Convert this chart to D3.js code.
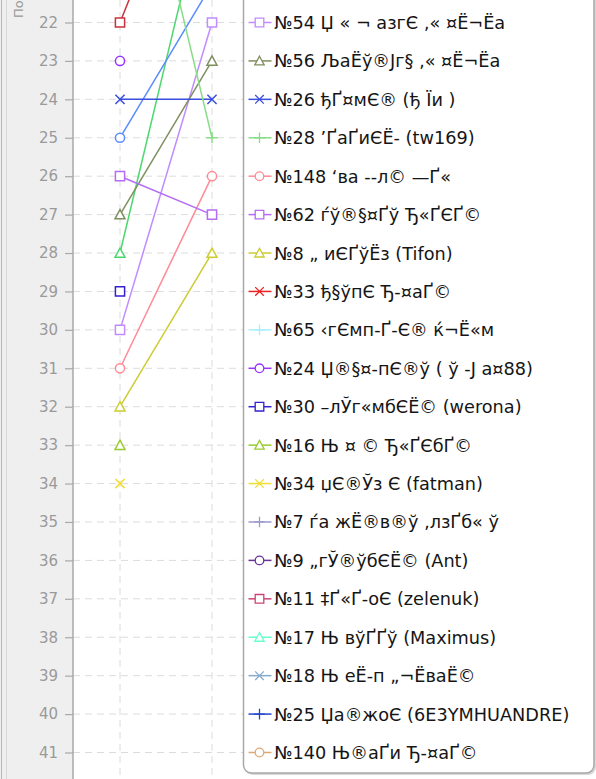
<!DOCTYPE html>
<html>
<head>
<meta charset="utf-8">
<script src="https://cdn.jsdelivr.net/npm/d3@7"></script>
<style>
  html, body { margin: 0; padding: 0; background: #fff; overflow: hidden; }
  svg { display: block; }
  text { white-space: pre; }
</style>
</head>
<body>
<div id="chart"></div>
<script>
// ============================================================
// Bump chart — positions per round, cropped window 22..41
// ============================================================

// ── Data ───────────────────────────────────────────────────
const rounds = ['1', '2'];

// legend order (first three sit above the visible part of the legend)
const riders = [
  null, null, null,
  '№54 Џ\u00A0«\u00A0¬\u00A0азгЄ ‚«\u00A0¤Ё¬Ёа',
  '№56 ЉаЁў®Јг§ ‚«\u00A0¤Ё¬Ёа',
  '№26 ђҐ¤мЄ® (ђ\u00A0Їи\u00A0)',
  '№28 ’ҐаҐиЄЁ- (tw169)',
  '№148 ‘ва\u00A0--л© —Ґ«',
  '№62 ѓў®§¤Ґў Ђ«ҐЄҐ©',
  '№8 „\u00A0иЄҐўЁз (Tifon)',
  '№33 ђ§ўпЄ Ђ-¤аҐ©',
  '№65 ‹гЄмп-Ґ-Є® ќ¬Ё«м',
  '№24 Џ®§¤-пЄ®ў (\u00A0ў\u00A0-Ј\u00A0а¤88)',
  '№30 –лЎг«мбЄЁ© (werona)',
  '№16 Њ\u00A0¤\u00A0© Ђ«ҐЄбҐ©',
  '№34 џЄ®Ўз\u00A0Є (fatman)',
  '№7 ѓа\u00A0жЁ®в®ў ‚лзҐб«\u00A0ў',
  '№9 „гЎ®ўбЄЁ© (Ant)',
  '№11 ‡Ґ«Ґ-оЄ (zelenuk)',
  '№17 Њ\u00A0вўҐҐў (Maximus)',
  '№18 Њ\u00A0еЁ-п „¬ЁваЁ©',
  '№25 Џа®жоЄ (6E3YMHUANDRE)',
  '№140 Њ®аҐи Ђ-¤аҐ©'
];

const posRound1 = [22, 28, 25, 30, 27, 24, 15, 31, 26, 32, null, null, 23, 29, 33, 34, null, null, null, null, null, null, null];
const posRound2 = [16, 18, 21, 22, 23, 24, 25, 26, 27, 28, null, null, null, null, null, null, null, null, null, null, null, null, null];

const yTicks = d3.range(22, 42);
const yTitle = 'Позиция';

// ── Styles ─────────────────────────────────────────────────
const colors = [
  '#c8323c', '#4cd870', '#5b8cff',
  '#c08cff', '#7f8f5f', '#3a4fe0', '#88dd88', '#ff8a96',
  '#b46cf5', '#cccc33', '#ee2222', '#aaeeff', '#9933ff',
  '#3322cc', '#99cc33', '#eedd33', '#9a9acc', '#663399',
  '#cc4477', '#66ffcc', '#88aacc', '#2244cc', '#ddaa77'
];
const shapes = [
  'square', 'triangle', 'circle',
  'square', 'triangle', 'x', 'plus', 'circle',
  'square', 'triangle', 'x', 'plus', 'circle',
  'square', 'triangle', 'x', 'plus', 'circle',
  'square', 'triangle', 'x', 'plus', 'circle'
];

const W = 596, H = 779;
const AXIS_X   = 73;
const LEG_X    = 243.5;
const LEG_R    = 594;
const LEG_BOT  = 773;
const FONT     = '"DejaVu Sans", Verdana, sans-serif';

// custom stroke symbols (size = half-width in px)
const SYM = {
  square:   { draw(c, s) { c.moveTo(-s, -s); c.lineTo(s, -s); c.lineTo(s, s); c.lineTo(-s, s); c.closePath(); } },
  circle:   { draw(c, s) { c.moveTo(s, 0); c.arc(0, 0, s, 0, 2 * Math.PI); } },
  triangle: { draw(c, s) { c.moveTo(0, -s); c.lineTo(s, s * 0.85); c.lineTo(-s, s * 0.85); c.closePath(); } },
  x:        { draw(c, s) { c.moveTo(-s, -s); c.lineTo(s, s); c.moveTo(-s, s); c.lineTo(s, -s); } },
  plus:     { draw(c, s) { c.moveTo(-s - 1, 0); c.lineTo(s + 1, 0); c.moveTo(0, -s - 1); c.lineTo(0, s + 1); } }
};
const symSize = { square: 4.6, circle: 4.6, triangle: 5, x: 4.6, plus: 4.6 };

// ── Scales ─────────────────────────────────────────────────
const y = d3.scaleLinear().domain([22, 41]).range([22.5, 752.5]);
const x = d3.scalePoint().domain(rounds).range([120, 212]);
const legY = d3.scaleLinear().domain([3, 22]).range([22.5, 752.5]);

const svg = d3.select('#chart').append('svg')
  .attr('width', W).attr('height', H)
  .style('font-family', FONT);

// plot background + left panel
svg.append('rect').attr('width', W).attr('height', H).attr('fill', '#fff');
svg.append('rect').attr('width', AXIS_X).attr('height', H).attr('fill', '#efefef');
svg.append('line').attr('x1', 1.5).attr('x2', 1.5).attr('y1', 0).attr('y2', H)
  .attr('stroke', '#b8b8b8');
svg.append('line').attr('x1', 6.5).attr('x2', 6.5).attr('y1', 0).attr('y2', H)
  .attr('stroke', '#dadada');

// ── Grid ───────────────────────────────────────────────────
const grid = svg.append('g').attr('stroke', '#dcdcdc').attr('stroke-dasharray', '7,5');
grid.selectAll('.hg').data(yTicks).enter().append('line')
  .attr('x1', AXIS_X).attr('x2', LEG_X)
  .attr('y1', d => y(d)).attr('y2', d => y(d));
grid.selectAll('.vg').data(rounds).enter().append('line')
  .attr('x1', d => x(d)).attr('x2', d => x(d))
  .attr('y1', 0).attr('y2', H);

// ── Y axis ─────────────────────────────────────────────────
const axis = svg.append('g')
  .attr('transform', `translate(${AXIS_X},0)`)
  .call(d3.axisLeft(y).tickValues(yTicks).tickSize(8).tickPadding(7).tickFormat(d3.format('d')));
axis.select('.domain').remove();
axis.append('line').attr('x1', 0).attr('x2', 0).attr('y1', 0).attr('y2', H)
  .attr('stroke', '#a8a8a8').attr('stroke-width', 1.5);
axis.selectAll('.tick line').attr('stroke', '#a8a8a8').attr('stroke-width', 1.2);
axis.selectAll('.tick text')
  .attr('fill', '#9a9a9a')
  .style('font-family', FONT)
  .style('font-size', '15px');

svg.append('text')
  .attr('transform', 'translate(23,18) rotate(-90)')
  .attr('fill', '#9a9a9a')
  .style('font-size', '13px')
  .text(yTitle);

// ── Series ─────────────────────────────────────────────────
const series = riders.map((name, i) => ({
  name,
  color: colors[i],
  shape: shapes[i],
  pts: [posRound1[i], posRound2[i]]
    .map((v, j) => ({ r: rounds[j], v }))
    .filter(p => p.v != null)
}));

const lineGen = d3.line().x(p => x(p.r)).y(p => y(p.v));

const plot = svg.append('g');
plot.selectAll('.s-line').data(series.filter(s => s.pts.length > 1)).enter()
  .append('path')
  .attr('d', s => lineGen(s.pts))
  .attr('fill', 'none')
  .attr('stroke', s => s.color)
  .attr('stroke-width', 1.5);

series.forEach(s => {
  plot.selectAll(null).data(s.pts).enter().append('path')
    .attr('transform', p => `translate(${x(p.r)},${y(p.v)})`)
    .attr('d', d3.symbol(SYM[s.shape], symSize[s.shape]))
    .attr('fill', '#fff')
    .attr('stroke', s.color)
    .attr('stroke-width', 1.5);
});

// ── Legend ─────────────────────────────────────────────────
const leg = svg.append('g');
leg.append('rect')
  .attr('x', LEG_X + 2).attr('y', -40)
  .attr('width', LEG_R - LEG_X).attr('height', LEG_BOT + 42)
  .attr('rx', 8).attr('fill', '#d8d8d8');
leg.append('rect')
  .attr('x', LEG_X).attr('y', -40)
  .attr('width', LEG_R - LEG_X).attr('height', LEG_BOT + 40)
  .attr('rx', 8).attr('fill', '#fff')
  .attr('stroke', '#a8a8a8').attr('stroke-width', 1.5);

const rows = leg.selectAll('.leg-row')
  .data(series.map((s, i) => Object.assign({ idx: i }, s)).filter(s => s.name))
  .enter().append('g')
  .attr('transform', s => `translate(0,${legY(s.idx)})`);

rows.append('line')
  .attr('x1', LEG_X + 5).attr('x2', LEG_X + 28)
  .attr('stroke', s => s.color).attr('stroke-width', 1.5);
rows.append('path')
  .attr('transform', `translate(${LEG_X + 16},0)`)
  .attr('d', s => d3.symbol(SYM[s.shape], symSize[s.shape] - 0.3)())
  .attr('fill', '#fff')
  .attr('stroke', s => s.color).attr('stroke-width', 1.3);
rows.append('text')
  .attr('x', LEG_X + 30.5)
  .attr('y', 6.5)
  .attr('fill', '#151515')
  .style('font-size', '17.7px')
  .text(s => s.name);
</script>
</body>
</html>
